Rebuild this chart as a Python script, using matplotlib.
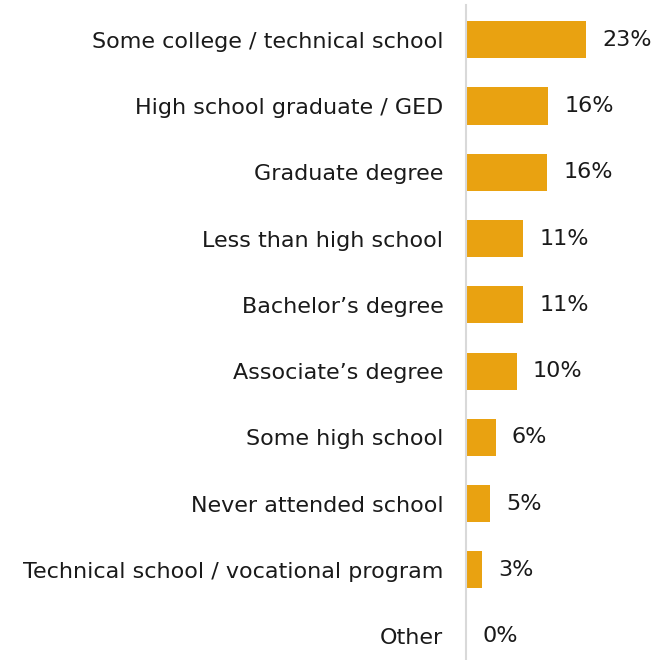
import matplotlib
matplotlib.use("Agg")
import matplotlib.pyplot as plt

categories = ["Some college / technical school", "High school graduate / GED",
              "Graduate degree", "Less than high school", "Bachelor\u2019s degree",
              "Associate\u2019s degree", "Some high school", "Never attended school",
              "Technical school / vocational program", "Other"]
values = [23.0, 15.7, 15.5, 11.0, 10.9, 9.7, 5.7, 4.6, 3.2, 0.2]
labels = ["23%", "16%", "16%", "11%", "11%", "10%", "6%", "5%", "3%", "0%"]

plt.rcParams['font.family'] = ['DejaVu Sans']

fig = plt.figure(figsize=(6.58, 6.6), dpi=100)
ax = fig.add_axes([0.7075, 0.0, 0.2925, 0.992])

y = list(range(len(categories)))
ax.barh(y, values, height=0.56, color="#E9A211")
for yi, v, lab in zip(y, values, labels):
    ax.text(v + 3.1, yi, lab, va="center", ha="left", fontsize=16, color="#1a1a1a")

ax.set_xlim(0, 36.6)
ax.set_ylim(9.36, -0.52)
ax.set_yticks(y)
ax.set_yticklabels(categories, fontsize=16, color="#1a1a1a")
ax.tick_params(axis="y", length=0, pad=16)
ax.set_xticks([])
for s in ["top", "right", "bottom"]:
    ax.spines[s].set_visible(False)
ax.spines["left"].set_color("#d9d9d9")
ax.spines["left"].set_linewidth(1.5)

fig.savefig("out.png", dpi=100, facecolor="white")
